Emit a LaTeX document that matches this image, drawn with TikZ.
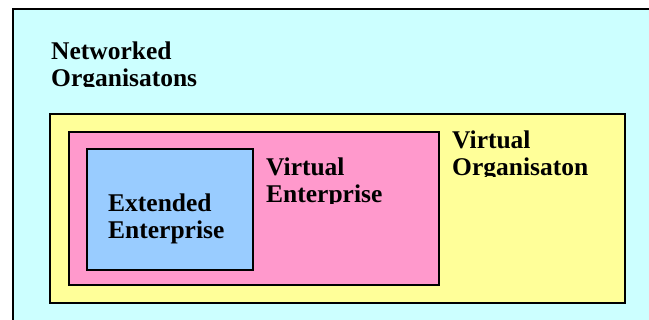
\documentclass[tikz,border=0pt]{standalone}
\usepackage{fontspec}
\setmainfont{Liberation Serif}
\definecolor{netfill}{HTML}{CCFFFF}
\definecolor{vofill}{HTML}{FFFF99}
\definecolor{vefill}{HTML}{FF99CC}
\definecolor{eefill}{HTML}{99CCFF}
\begin{document}
\begin{tikzpicture}[x=1pt,y=-1pt,
  layer/.style={draw=black, line width=1.5pt},
  lbl/.style={anchor=base west, inner sep=0pt, align=left,
    font=\fontsize{25.5}{27.5}\selectfont\bfseries}]
\useasboundingbox (0,0) rectangle (649,320);
\fill[white] (0,0) rectangle (649,320);
% nested organisation levels
\begin{scope}
  \clip (0,0) rectangle (649,320);
  \draw[layer, fill=netfill] (13,9) rectangle (670,340);
\end{scope}
\draw[layer, fill=vofill] (50,114) rectangle (625,303);
\draw[layer, fill=vefill] (69,132) rectangle (439,285);
\draw[layer, fill=eefill] (87,149) rectangle (253,270);
% labels (anchored at the last baseline), each cut off just below it
\begin{scope}
  \clip (40,20) rectangle (300,87);
  \node[lbl] (net) at (51,87) {Networked\\Organisatons};
\end{scope}
\begin{scope}
  \clip (440,120) rectangle (620,177);
  \node[lbl] (vo) at (452,176) {Virtual\\Organisaton};
\end{scope}
\begin{scope}
  \clip (260,140) rectangle (435,203.5);
  \node[lbl] (ve) at (266,203) {Virtual\\Enterprise};
\end{scope}
\node[lbl] (ee) at (108,239) {Extended\\Enterprise};
\end{tikzpicture}
\end{document}
